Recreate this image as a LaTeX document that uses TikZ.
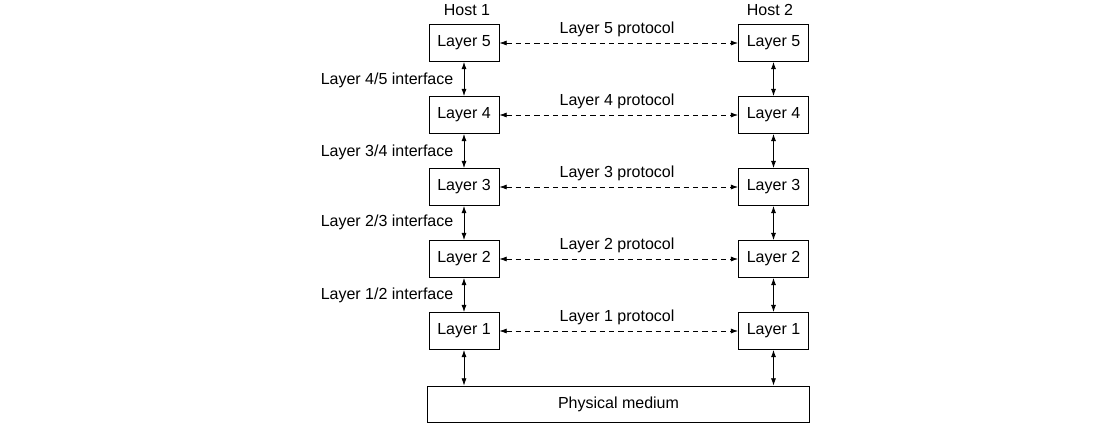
\documentclass[tikz,border=0pt]{standalone}
\usepackage{fontspec}
\setmainfont{Liberation Sans}
\usetikzlibrary{arrows.meta}

\begin{document}
\begin{tikzpicture}[x=0.75pt,y=-0.75pt,
  font=\fontsize{12}{14}\selectfont,
  layerbox/.style={draw,line width=0.6pt,minimum width=52.5pt,minimum height=27.75pt,inner sep=0pt},
  mediumbox/.style={draw,line width=0.6pt,minimum width=287pt,minimum height=27pt,inner sep=0pt},
  peer/.style={dash pattern=on 4pt off 3pt,line width=0.6pt,{Latex[length=5.5pt,width=3.8pt]}-{Latex[length=5.5pt,width=3.8pt]}},
  iface/.style={line width=0.6pt,{Latex[length=5.5pt,width=3.8pt]}-{Latex[length=5.5pt,width=3.8pt]}}]

\useasboundingbox (0,0) rectangle (1106,432);

\node at (467,10) {Host 1};
\node at (770,10) {Host 2};

% host 1 stack
\node[layerbox] (h1l5) at (464,43) {Layer 5};
\node[layerbox] (h1l4) at (464,115) {Layer 4};
\node[layerbox] (h1l3) at (464,187) {Layer 3};
\node[layerbox] (h1l2) at (464,259) {Layer 2};
\node[layerbox] (h1l1) at (464,331) {Layer 1};

% host 2 stack
\node[layerbox] (h2l5) at (773.5,43) {Layer 5};
\node[layerbox] (h2l4) at (773.5,115) {Layer 4};
\node[layerbox] (h2l3) at (773.5,187) {Layer 3};
\node[layerbox] (h2l2) at (773.5,259) {Layer 2};
\node[layerbox] (h2l1) at (773.5,331) {Layer 1};

\node[mediumbox] (medium) at (618.5,404) {Physical medium};

% protocols
\draw[peer] (h1l5) -- (h2l5);
\node at (617,29) {Layer 5 protocol};
\draw[peer] (h1l4) -- (h2l4);
\node at (617,101) {Layer 4 protocol};
\draw[peer] (h1l3) -- (h2l3);
\node at (617,173) {Layer 3 protocol};
\draw[peer] (h1l2) -- (h2l2);
\node at (617,245) {Layer 2 protocol};
\draw[peer] (h1l1) -- (h2l1);
\node at (617,317) {Layer 1 protocol};

% interfaces
\draw[iface] (h1l5) -- (h1l4);
\node[anchor=east] at (458,80) {Layer 4/5 interface};
\draw[iface] (h1l4) -- (h1l3);
\node[anchor=east] at (458,152) {Layer 3/4 interface};
\draw[iface] (h1l3) -- (h1l2);
\node[anchor=east] at (458,222) {Layer 2/3 interface};
\draw[iface] (h1l2) -- (h1l1);
\node[anchor=east] at (458,295) {Layer 1/2 interface};

\draw[iface] (h2l5) -- (h2l4);
\draw[iface] (h2l4) -- (h2l3);
\draw[iface] (h2l3) -- (h2l2);
\draw[iface] (h2l2) -- (h2l1);

\draw[iface] (h1l1.south) -- (h1l1.south |- medium.north);
\draw[iface] (h2l1.south) -- (h2l1.south |- medium.north);

\end{tikzpicture}
\end{document}
